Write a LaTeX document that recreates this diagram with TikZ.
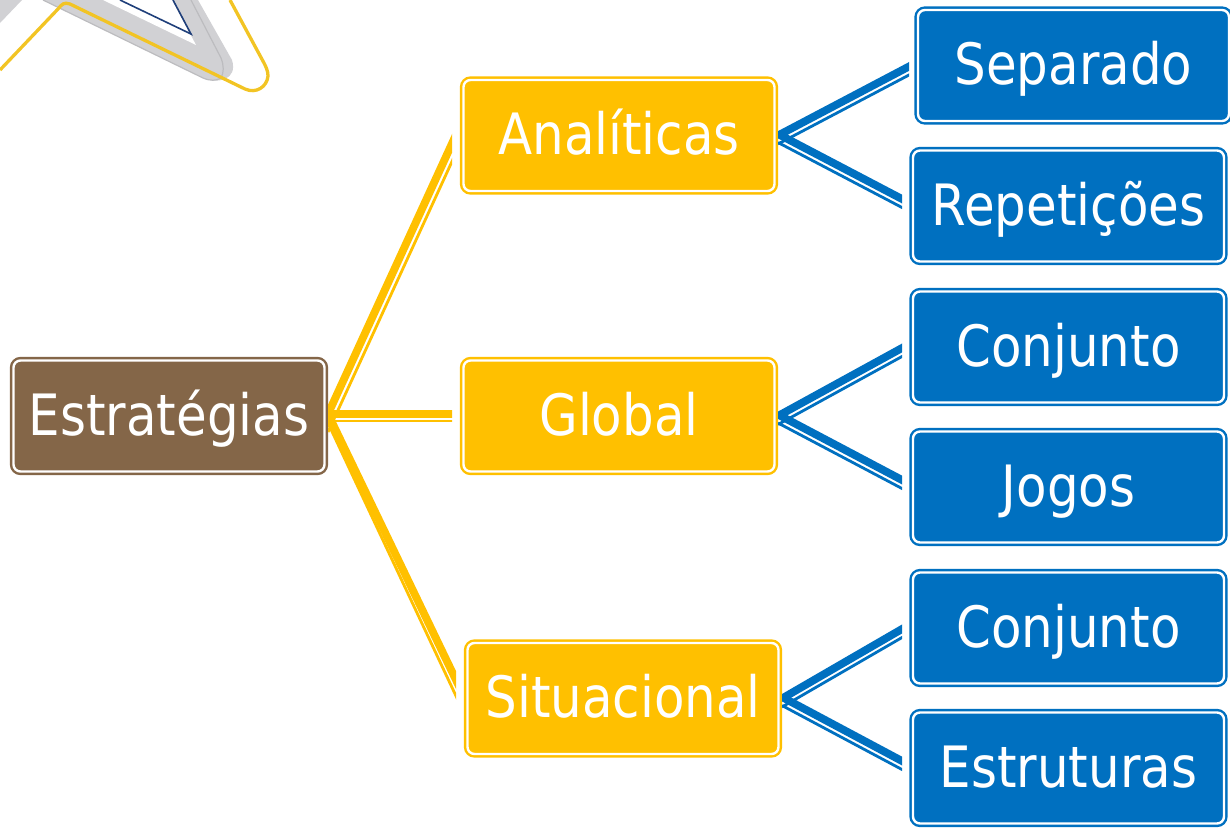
\documentclass[tikz,border=0pt]{standalone}
\usepackage{fontspec}
\setmainfont[FakeStretch=0.875]{DejaVu Sans}
\usetikzlibrary{calc}
\definecolor{brownbox}{HTML}{846648}
\definecolor{goldbox}{HTML}{FFC000}
\definecolor{bluebox}{HTML}{0070C0}
\definecolor{logogray}{HTML}{D1D1D4}
\definecolor{logoedge}{HTML}{BCBCBF}
\definecolor{logonavy}{HTML}{1F3F7A}
\definecolor{logoyellow}{HTML}{F2C424}
\tikzset{
  card/.style={rounded corners=7pt, line width=2.4pt, double=white, double distance=2.4pt,
    minimum width=311pt, minimum height=111pt, inner sep=0pt, outer sep=0pt,
    text=white, font=\fontsize{57}{60}\selectfont, text height=42pt, text depth=4pt},
  rootcard/.style={card, draw=brownbox, fill=brownbox},
  midcard/.style={card, draw=goldbox, fill=goldbox},
  leafcard/.style={card, draw=bluebox, fill=bluebox},
  logoline/.style={line width=3.3pt, draw=logoyellow, line join=round},
}
% colour, node, free end, thick start dy, thin start dy, thin end dy
\newcommand{\linkpair}[6]{%
  \begin{scope}
    \clip ($(#2.east)+(3.5,-500)$) rectangle ($(#3)+(0,500)$);
    \draw[#1, line width=7.8pt] ($(#2.east)+(3.5,#4)$) -- ($($(#2.east)+(3.5,#4)$)!1.2!(#3)$);
    \draw[#1, line width=2.8pt] ($(#2.east)+(3.5,#5)$) -- ($($(#2.east)+(3.5,#5)$)!1.2!($(#3)+(0,#6)$)$);
  \end{scope}}
\begin{document}
\begin{tikzpicture}[x=1pt,y=-1pt]
\useasboundingbox (0,0) rectangle (1230,827);
\begin{scope}
  \clip (0,0) rectangle (1230,827);
  % logo fragment
  \fill[logogray] (0,0) -- (22,0) -- (0,23) -- cycle;
  \fill[logogray] (43,0) -- (203,78) .. controls (218,84) and (238,80) .. (232,60) -- (198,0) -- cycle;
  \draw[logoedge, line width=1.2pt] (43,0) -- (203,78) .. controls (210,81) and (216,81) .. (221,78) .. controls (224,72) and (224,66) .. (221,58) -- (191,0);
  \fill[white] (103,0) -- (196,45) -- (172,0) -- cycle;
  \draw[logonavy, line width=1.6pt] (120,0) -- (191,34) -- (173,0);
  \draw[logoline] (0,70) -- (58,9) .. controls (62,4) and (64,2) .. (70,4) -- (245,89) .. controls (256,94) and (267,87) .. (268,76) .. controls (268,71) and (266,67) .. (264,63) -- (230,0);

  % connector ends
  \coordinate (endA) at (452,143.5);
  \coordinate (endG) at (452,414);
  \coordinate (endS) at (456,680);
  \coordinate (endSep) at (909,66.5);
  \coordinate (endRep) at (902,199);
  \coordinate (endCon) at (902,348);
  \coordinate (endJog) at (902,480);
  \coordinate (endCoS) at (902,629);
  \coordinate (endEst) at (902,761);

  % nodes
  \node[rootcard] (root) at (169,416) {Estratégias};
  \node[midcard] (ana) at (619,135.5) {Analíticas};
  \node[midcard] (glo) at (619,416) {Global};
  \node[midcard] (sit) at (623,698.5) {Situacional};
  \node[leafcard] (sep) at (1073.5,65.5) {Separado};
  \node[leafcard] (rep) at (1068.5,206) {Repetições};
  \node[leafcard] (con) at (1068.5,347) {Conjunto};
  \node[leafcard] (jog) at (1068.5,487) {Jogos};
  \node[leafcard] (cos) at (1068.5,628) {Conjunto};
  \node[leafcard] (est) at (1068.5,768) {Estruturas};

  % connectors
  \linkpair{goldbox}{root}{endA}{-2}{16}{18}
  \linkpair{goldbox}{root}{endG}{-2}{5}{7}
  \linkpair{goldbox}{root}{endS}{-2}{7}{16}
  \linkpair{bluebox}{ana}{endSep}{0}{8.5}{8.5}
  \linkpair{bluebox}{ana}{endRep}{-1.5}{7}{8.5}
  \linkpair{bluebox}{glo}{endCon}{0}{8.5}{8.5}
  \linkpair{bluebox}{glo}{endJog}{-1.5}{7}{8.5}
  \linkpair{bluebox}{sit}{endCoS}{0}{8.5}{8.5}
  \linkpair{bluebox}{sit}{endEst}{-1.5}{7}{8.5}
\end{scope}
\end{tikzpicture}
\end{document}
